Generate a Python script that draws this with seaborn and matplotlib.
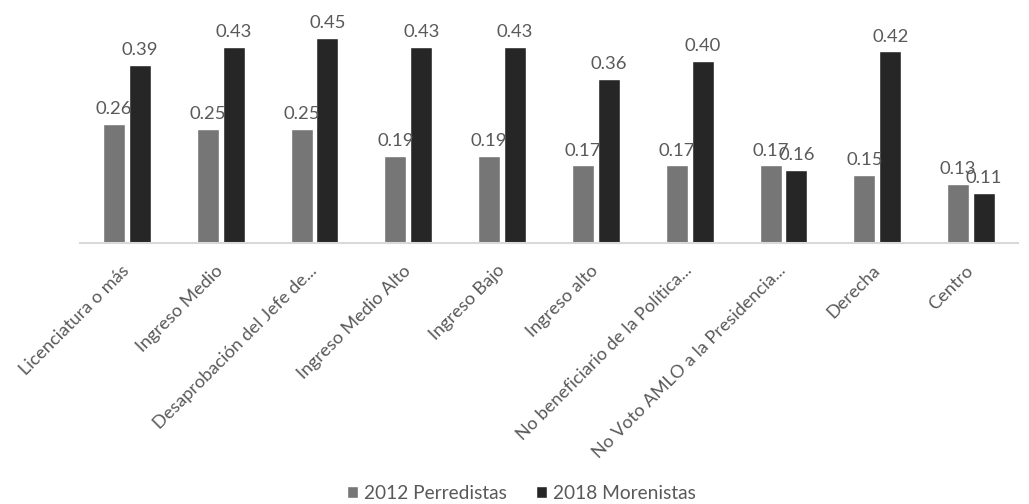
import matplotlib
matplotlib.use("Agg")
import matplotlib.pyplot as plt
import seaborn as sns
import pandas as pd

categories = [
    "Licenciatura o más",
    "Ingreso Medio",
    "Desaprobación del Jefe de...",
    "Ingreso Medio Alto",
    "Ingreso Bajo",
    "Ingreso alto",
    "No beneficiario de la Política...",
    "No Voto AMLO a la Presidencia...",
    "Derecha",
    "Centro",
]
perredistas_2012 = [0.26, 0.25, 0.25, 0.19, 0.19, 0.17, 0.17, 0.17, 0.15, 0.13]
morenistas_2018 = [0.39, 0.43, 0.45, 0.43, 0.43, 0.36, 0.40, 0.16, 0.42, 0.11]
series_names = ["2012 Perredistas", "2018 Morenistas"]
series_colors = ["#767676", "#262626"]

df = pd.DataFrame({
    "categoria": categories * 2,
    "valor": perredistas_2012 + morenistas_2018,
    "serie": [series_names[0]] * len(categories) + [series_names[1]] * len(categories),
})

sns.set_theme(style="white")
plt.rcParams["font.family"] = ["Lato", "DejaVu Sans"]
text_color = "#595959"

fig = plt.figure(figsize=(10.29, 5.04), dpi=100)
ax = fig.add_axes([80 / 1029, 261 / 504, 938 / 1029, 228 / 504])

sns.barplot(
    data=df, x="categoria", y="valor", hue="serie",
    palette=series_colors, width=0.554, gap=0.153,
    errorbar=None, ax=ax, legend=True, saturation=1,
)

for container in ax.containers:
    ax.bar_label(container, fmt="%.2f", padding=5, fontsize=13.3, color=text_color)

ax.set_ylim(0, 0.5)
ax.set_xlim(-0.5, len(categories) - 0.5)
ax.set_xlabel("")
ax.set_ylabel("")
ax.set_yticks([])
for side in ["left", "right", "top"]:
    ax.spines[side].set_visible(False)
ax.spines["bottom"].set_color("#d9d9d9")
ax.spines["bottom"].set_linewidth(1.5)

ax.tick_params(axis="x", length=0, pad=18, labelsize=13.1, labelcolor=text_color)
plt.setp(ax.get_xticklabels(), rotation=45, ha="right", va="center", rotation_mode="anchor")

handles, labels = ax.get_legend_handles_labels()
ax.legend_.remove()
fig.legend(
    handles, labels, loc="lower center", bbox_to_anchor=(0.507, -0.03), ncol=2,
    frameon=False, fontsize=13.8, labelcolor=text_color,
    handlelength=0.55, handleheight=0.55, handletextpad=0.35, columnspacing=1.5,
)

fig.savefig("out.png", dpi=100, facecolor="white")
